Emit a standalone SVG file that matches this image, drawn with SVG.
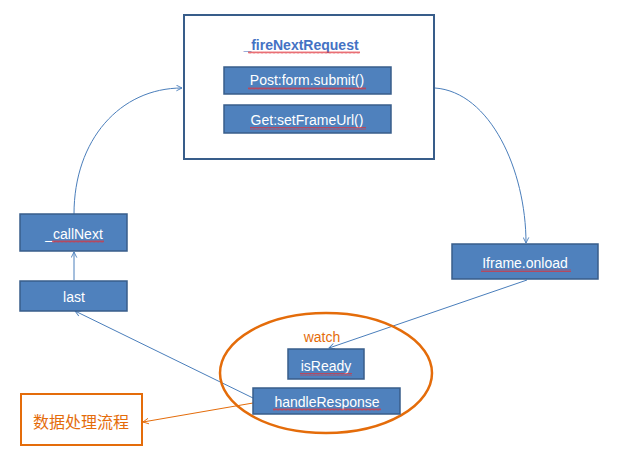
<svg xmlns="http://www.w3.org/2000/svg" width="617" height="459" viewBox="0 0 617 459">
<style>
.box{fill:#4F81BD;stroke:#385D8A;stroke-width:1.5}
.t{font-family:"Liberation Sans",Arial,sans-serif;font-size:14px;fill:#fff;text-anchor:middle}
.c{fill:none;stroke:#4A7EBB;stroke-width:1}
.o{fill:none;stroke:#E46C0A;stroke-width:1}
.sq{fill:url(#squig)}
</style>
<defs>
<marker id="ab" viewBox="0 0 10 10" refX="9" refY="5" markerWidth="7" markerHeight="7" orient="auto" markerUnits="userSpaceOnUse">
<path d="M1,1 L9,5 L1,9" fill="none" stroke="#4A7EBB" stroke-width="1.3"/>
</marker>
<marker id="ao" viewBox="0 0 10 10" refX="9" refY="5" markerWidth="7" markerHeight="7" orient="auto" markerUnits="userSpaceOnUse">
<path d="M1,1 L9,5 L1,9" fill="none" stroke="#E46C0A" stroke-width="1.3"/>
</marker>
<pattern id="squig" width="4" height="3" patternUnits="userSpaceOnUse">
<path d="M0,2.5 L1,0.5 L2,2.5 L3,0.5 L4,2.5" fill="none" stroke="#E0303A" stroke-width="0.7"/>
</pattern>
</defs>
<rect width="617" height="459" fill="#fff"/>
<g id="connectors">
<path class="c" d="M435,88 C490,92 526,170 526,243" marker-end="url(#ab)"/>
<path class="c" d="M527,280 L329,348" marker-end="url(#ab)"/>
<path class="c" d="M253,398 L75,311" marker-end="url(#ab)"/>
<path class="c" d="M74,280 L74,252" marker-end="url(#ab)"/>
<path class="c" d="M74,214 C74,140 120,88 182,88" marker-end="url(#ab)"/>
<path class="o" d="M253,403 L143,422" marker-end="url(#ao)"/>
</g>
<g id="fireNextRequest">
<rect x="184" y="15" width="250" height="144" fill="#fff" stroke="#385D8A" stroke-width="2"/>
<text x="301" y="50" font-family="Liberation Sans,Arial,sans-serif" font-size="14" font-weight="bold" fill="#4472C4" text-anchor="middle">_fireNextRequest</text>
<rect class="sq" x="248" y="51" width="112" height="3"/>
</g>
<g id="post">
<rect class="box" x="224" y="67" width="167" height="27"/>
<text class="t" x="307" y="85">Post:form.submit()</text>
<rect class="sq" x="248" y="87" width="118" height="3"/>
</g>
<g id="get">
<rect class="box" x="224" y="105" width="167" height="28"/>
<text class="t" x="307" y="125">Get:setFrameUrl()</text>
<rect class="sq" x="250" y="127" width="116" height="3"/>
</g>
<g id="callNext">
<rect class="box" x="20" y="214" width="107" height="37"/>
<text class="t" x="74" y="239">_callNext</text>
<rect class="sq" x="52" y="240" width="52" height="3"/>
</g>
<g id="last">
<rect class="box" x="20" y="281" width="107" height="30"/>
<text class="t" x="74" y="302">last</text>
</g>
<g id="iframeOnload">
<rect class="box" x="452" y="244" width="146" height="35"/>
<text class="t" x="525" y="268">Iframe.onload</text>
<rect class="sq" x="481" y="269" width="90" height="3"/>
</g>
<g id="watch">
<ellipse cx="326" cy="373" rx="106" ry="60" fill="none" stroke="#E46C0A" stroke-width="2.5"/>
<text x="322" y="342" font-family="Liberation Sans,Arial,sans-serif" font-size="14" fill="#E46C0A" text-anchor="middle">watch</text>
</g>
<g id="isReady">
<rect class="box" x="288" y="349" width="76" height="30"/>
<text class="t" x="326" y="371">isReady</text>
<rect class="sq" x="300" y="373" width="52" height="3"/>
</g>
<g id="handleResponse">
<rect class="box" x="253" y="388" width="147" height="26"/>
<text class="t" x="327" y="407">handleResponse</text>
<rect class="sq" x="273" y="408" width="108" height="3"/>
</g>
<g id="dataFlow">
<rect x="21" y="394" width="121" height="51" fill="#fff" stroke="#E46C0A" stroke-width="2"/>
<text x="81" y="428" font-family="Liberation Sans,'Noto Sans CJK SC',sans-serif" font-size="16" fill="#E46C0A" text-anchor="middle">数据处理流程</text>
</g>
</svg>
